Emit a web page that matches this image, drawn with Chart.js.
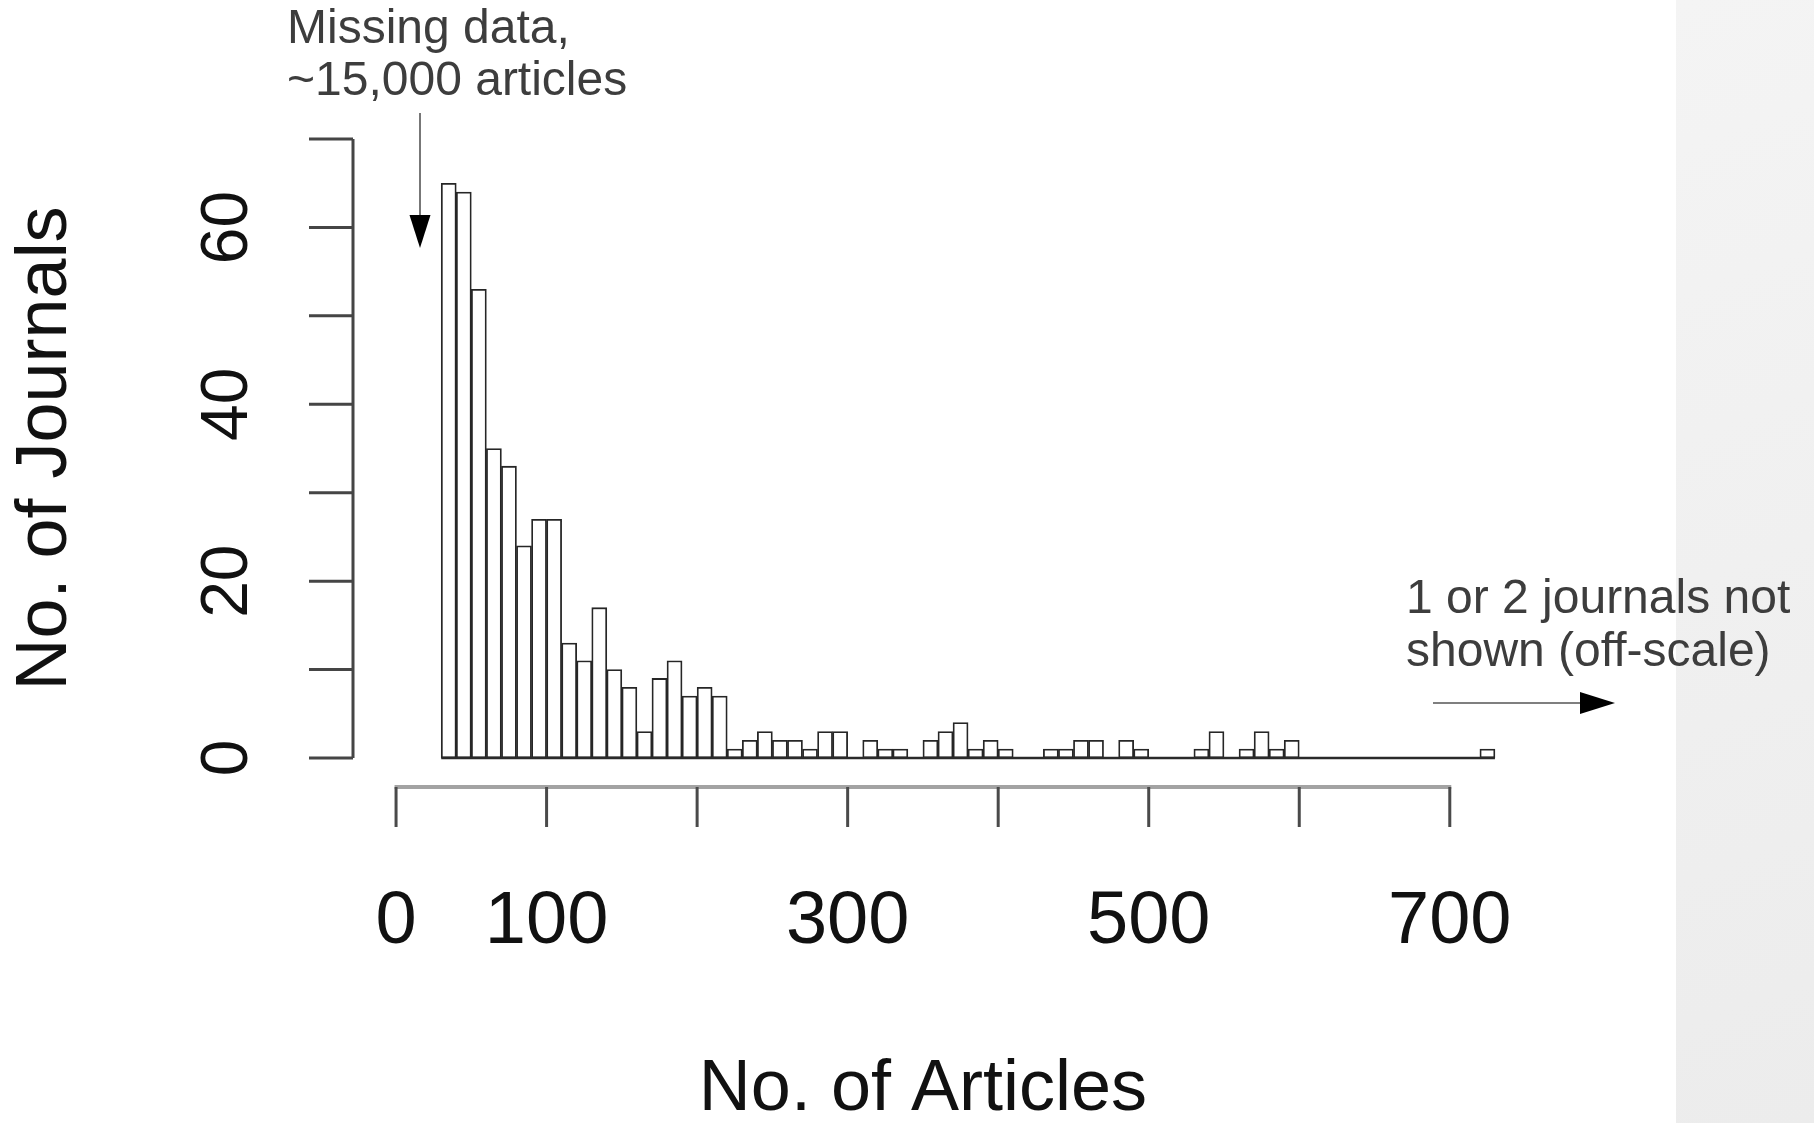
<!DOCTYPE html>
<html>
<head>
<meta charset="utf-8">
<script src="https://cdn.jsdelivr.net/npm/chart.js@4.4.1/dist/chart.umd.min.js"></script>
<style>
    html, body { margin: 0; padding: 0; }
    body {
        width: 1814px;
        height: 1123px;
        overflow: hidden;
        background: #fff;
        position: relative;
    }
    #side {
        position: absolute;
        left: 1676px;
        top: 0;
        width: 138px;
        height: 1123px;
        background: linear-gradient(160deg, #f4f4f4, #ececec);
    }
    #wrap {
        position: absolute;
        left: 0;
        top: 0;
        width: 1814px;
        height: 1123px;
    }
</style>
</head>
<body>
<div id="side"></div>
<div id="wrap"><canvas id="hist"></canvas></div>
<script>
// Histogram of articles per journal, bins of 10 articles
const binLeft = [
    30, 40, 50, 60, 70, 80, 90, 100, 110, 120,
    130, 140, 150, 160, 170, 180, 190, 200, 210, 220,
    230, 240, 250, 260, 270, 280, 290, 300, 310, 320,
    330, 340, 350, 360, 370, 380, 390, 400, 410, 420,
    430, 440, 450, 460, 470, 480, 490, 500, 510, 520,
    530, 540, 550, 560, 570, 580, 590, 600, 610, 620,
    630, 640, 650, 660, 670, 680, 690, 700, 710, 720,
];
const journalCounts = [
    65, 64, 53, 35, 33, 24, 27, 27, 13, 11,
    17, 10, 8, 3, 9, 11, 7, 8, 7, 1,
    2, 3, 2, 2, 1, 3, 3, 0, 2, 1,
    1, 0, 2, 3, 4, 1, 2, 1, 0, 0,
    1, 1, 2, 2, 0, 2, 1, 0, 0, 0,
    1, 3, 0, 1, 3, 1, 2, 0, 0, 0,
    0, 0, 0, 0, 0, 0, 0, 0, 0, 1,
];
const BIN_WIDTH = 10;

const xTicks = [0, 100, 200, 300, 400, 500, 600, 700];
const xTickLabels = ['0', '100', '', '300', '', '500', '', '700'];
const yTicks = [0, 10, 20, 30, 40, 50, 60, 70];
const yTickLabels = ['0', '', '20', '', '40', '', '60', ''];

const X_TITLE = 'No. of Articles';
const Y_TITLE = 'No. of Journals';

const FONT = "'Liberation Sans', Arial, Helvetica, sans-serif";

// bars centred in their bins
const barPoints = binLeft.map((b, i) => ({ x: b + BIN_WIDTH / 2, y: journalCounts[i] }));
// R draws empty bins as a flat line along zero
const baseLine = [
    { x: binLeft[0], y: 0 },
    { x: binLeft[binLeft.length - 1] + BIN_WIDTH, y: 0 },
];

function arrowHead(ctx, tipX, tipY, dir, len, half) {
    ctx.beginPath();
    if (dir === 'down') {
        ctx.moveTo(tipX, tipY);
        ctx.lineTo(tipX - half, tipY - len);
        ctx.lineTo(tipX + half, tipY - len);
    } else {
        ctx.moveTo(tipX, tipY);
        ctx.lineTo(tipX - len, tipY - half);
        ctx.lineTo(tipX - len, tipY + half);
    }
    ctx.closePath();
    ctx.fill();
}

// base-R style detached axes plus the slide notes
const rAxes = {
    id: 'rAxes',
    afterDraw(chart) {
        const ctx = chart.ctx;
        const xs = chart.scales.x;
        const ys = chart.scales.y;
        const area = chart.chartArea;

        ctx.save();

        // y axis
        const ax = area.left;
        ctx.strokeStyle = '#454545';
        ctx.lineWidth = 3;
        ctx.beginPath();
        ctx.moveTo(ax, ys.getPixelForValue(yTicks[0]));
        ctx.lineTo(ax, ys.getPixelForValue(yTicks[yTicks.length - 1]));
        ctx.stroke();
        for (const v of yTicks) {
            const py = ys.getPixelForValue(v);
            ctx.beginPath();
            ctx.moveTo(ax - 44, py);
            ctx.lineTo(ax, py);
            ctx.stroke();
        }
        ctx.fillStyle = '#111';
        ctx.font = `66px ${FONT}`;
        ctx.textAlign = 'center';
        ctx.textBaseline = 'middle';
        yTicks.forEach((v, i) => {
            if (!yTickLabels[i]) return;
            ctx.save();
            ctx.translate(ax - 127, ys.getPixelForValue(v));
            ctx.rotate(-Math.PI / 2);
            ctx.fillText(yTickLabels[i], 0, 3);
            ctx.restore();
        });

        // x axis, drawn below the bars
        const ay = area.bottom;
        ctx.strokeStyle = '#a3a3a3';
        ctx.lineWidth = 4;
        ctx.beginPath();
        ctx.moveTo(xs.getPixelForValue(xTicks[0]) - 1.5, ay);
        ctx.lineTo(xs.getPixelForValue(xTicks[xTicks.length - 1]) + 1.5, ay);
        ctx.stroke();
        ctx.strokeStyle = '#4a4a4a';
        ctx.lineWidth = 3;
        for (const v of xTicks) {
            const px = xs.getPixelForValue(v);
            ctx.beginPath();
            ctx.moveTo(px, ay);
            ctx.lineTo(px, ay + 40);
            ctx.stroke();
        }
        ctx.fillStyle = '#111';
        ctx.font = `74px ${FONT}`;
        xTicks.forEach((v, i) => {
            if (!xTickLabels[i]) return;
            ctx.fillText(xTickLabels[i], xs.getPixelForValue(v), ay + 136);
        });

        // axis titles
        ctx.font = `72px ${FONT}`;
        ctx.fillText(X_TITLE, xs.getPixelForValue(350), ay + 303);
        ctx.save();
        ctx.translate(46, ys.getPixelForValue(35));
        ctx.rotate(-Math.PI / 2);
        ctx.fillText(Y_TITLE, 0, 0);
        ctx.restore();

        // notes
        ctx.fillStyle = '#3d3d3d';
        ctx.font = `48px ${FONT}`;
        ctx.textAlign = 'left';
        ctx.fillText('Missing data,', 287, 30);
        ctx.fillText('~15,000 articles', 287, 82);
        ctx.fillText('1 or 2 journals not', 1406, 600);
        ctx.fillText('shown (off-scale)', 1406, 653);

        ctx.strokeStyle = '#555';
        ctx.lineWidth = 1.6;
        ctx.fillStyle = '#000';
        ctx.beginPath();
        ctx.moveTo(420, 113);
        ctx.lineTo(420, 218);
        ctx.stroke();
        arrowHead(ctx, 420, 248, 'down', 33, 10.5);

        ctx.beginPath();
        ctx.moveTo(1433, 703);
        ctx.lineTo(1584, 703);
        ctx.stroke();
        arrowHead(ctx, 1615, 703, 'right', 35, 11);

        ctx.restore();
    }
};

const ctx = document.getElementById('hist').getContext('2d');
new Chart(ctx, {
    type: 'bar',
    data: {
        datasets: [{
            type: 'line',
            data: baseLine,
            borderColor: '#2a2a2a',
            borderWidth: 2.5,
            pointRadius: 0,
            order: 0,
        }, {
            data: barPoints,
            backgroundColor: '#ffffff',
            borderColor: '#262626',
            borderWidth: 1.8,
            borderSkipped: false,
            barPercentage: 1,
            categoryPercentage: 1,
            grouped: false,
            order: 1,
        }]
    },
    options: {
        responsive: true,
        maintainAspectRatio: false,
        animation: false,
        events: [],
        layout: {
            padding: { left: 353, right: 304, top: 139, bottom: 336 }
        },
        plugins: {
            legend: { display: false },
            tooltip: { enabled: false }
        },
        scales: {
            x: {
                type: 'linear',
                offset: false,
                min: -28.6,
                max: 740,
                display: false
            },
            y: {
                min: -3.28,
                max: 70,
                display: false
            }
        }
    },
    plugins: [rAxes]
});
</script>
</body>
</html>
